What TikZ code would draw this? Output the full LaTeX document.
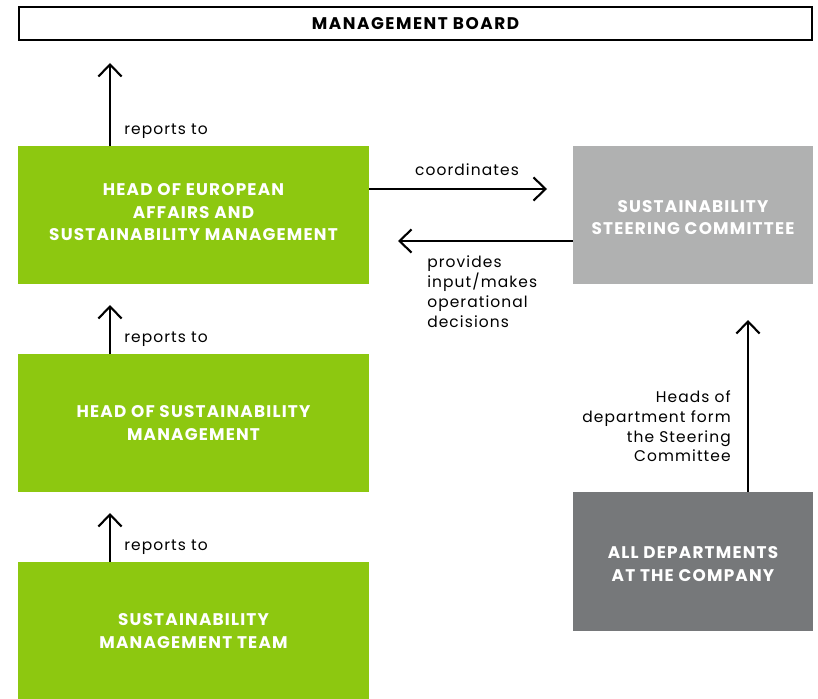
\documentclass[tikz,border=0pt]{standalone}
\usepackage{fontspec}
\setmainfont{Poppins}
\newfontfamily\boxfont[LetterSpace=7]{Poppins}
\newfontfamily\boardfont[LetterSpace=9]{Poppins}
\newfontfamily\labelfont[LetterSpace=7]{Poppins}
\usepackage{tikz}
\usetikzlibrary{arrows.meta}

\definecolor{leaf}{HTML}{8DC810}
\definecolor{steergray}{HTML}{B0B1B1}
\definecolor{deptgray}{HTML}{76787A}

\tikzset{
  unitbox/.style={fill=leaf, text=white, align=center, inner sep=0pt,
    font=\boxfont\bfseries\fontsize{12}{16.3}\selectfont,
    minimum width=8.775cm, minimum height=3.45cm},
  sidebox/.style={unitbox, minimum width=6cm, text depth=0pt, text height=1.0cm},
  flow/.style={line width=1.5pt, -{Straight Barb[length=3mm,width=5.8mm,line width=1.5pt]}},
  flowtext/.style={inner sep=0pt, font=\labelfont\fontsize{11}{14.2}\selectfont}
}

\begin{document}
\begin{tikzpicture}
            \useasboundingbox (0,0) rectangle (20.45,-17.475);

            \node[draw, line width=1.4pt, minimum width=19.825cm, minimum height=0.825cm,
              inner sep=0pt, font=\boardfont\bfseries\fontsize{12}{13}\selectfont] (board) at (10.3875,-0.5875) {MANAGEMENT BOARD};

            \node[unitbox, text depth=0.15cm] (europe) at (4.8375,-5.375) {HEAD OF EUROPEAN\\AFFAIRS AND\\SUSTAINABILITY MANAGEMENT};
            \node[unitbox] (head) at (4.8375,-10.575) {HEAD OF SUSTAINABILITY\\MANAGEMENT};
            \node[unitbox] (team) at (4.8375,-15.775) {SUSTAINABILITY\\MANAGEMENT TEAM};
            \node[sidebox, fill=steergray] (steer) at (17.325,-5.375) {SUSTAINABILITY\\STEERING COMMITTEE};
            \node[sidebox, fill=deptgray, minimum height=3.475cm] (depts) at (17.325,-14.0375) {ALL DEPARTMENTS\\AT THE COMPANY};

            \coordinate (up1) at (2.75,-1.575);
            \coordinate (up2) at (2.75,-7.625);
            \coordinate (up3) at (2.75,-12.825);
            \coordinate (coord) at (13.675,-4.725);
            \coordinate (input) at (9.95,-6.025);
            \coordinate (form) at (18.7,-8.0);

            \draw[flow] (europe.north -| up1) -- (up1);
            \draw[flow] (head.north -| up2) -- (up2);
            \draw[flow] (team.north -| up3) -- (up3);
            \draw[flow] (europe.east |- coord) -- (coord);
            \draw[flow] (steer.west |- input) -- (input);
            \draw[flow] (depts.north -| form) -- (form);

            \node[flowtext, anchor=base west] (rep1) at (3.1,-3.37) {reports to};
            \node[flowtext, anchor=base west] (rep2) at (3.1,-8.57) {reports to};
            \node[flowtext, anchor=base west] (rep3) at (3.1,-13.75) {reports to};
            \node[flowtext, anchor=base] (coordtext) at (11.675,-4.39) {coordinates};
            \node[flowtext, anchor=north west, align=left] (inputtext) at (10.675,-6.38)
              {provides\\input/makes\\operational\\decisions};
            \node[flowtext, anchor=north east, align=right] (formtext) at (18.275,-9.75)
              {Heads of\\department form\\the Steering\\Committee};
          \end{tikzpicture}
\end{document}
